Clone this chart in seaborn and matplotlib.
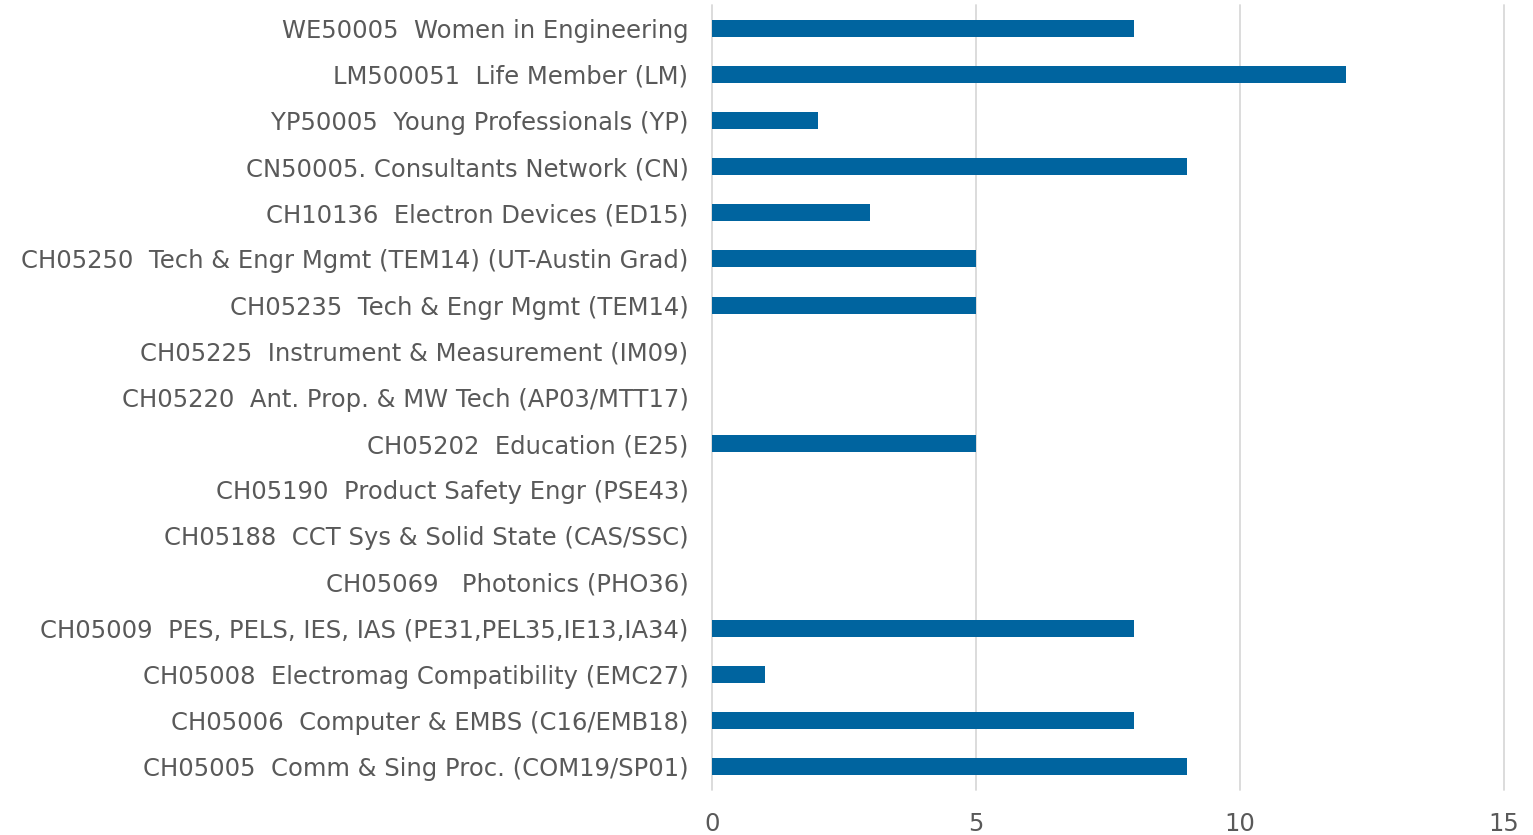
import matplotlib
matplotlib.use("Agg")
import matplotlib.pyplot as plt
import seaborn as sns
import pandas as pd

# Categorias (de cima para baixo) e contagens
categorias = [
    "WE50005  Women in Engineering",
    "LM500051  Life Member (LM)",
    "YP50005  Young Professionals (YP)",
    "CN50005. Consultants Network (CN)",
    "CH10136  Electron Devices (ED15)",
    "CH05250  Tech & Engr Mgmt (TEM14) (UT-Austin Grad)",
    "CH05235  Tech & Engr Mgmt (TEM14)",
    "CH05225  Instrument & Measurement (IM09)",
    "CH05220  Ant. Prop. & MW Tech (AP03/MTT17)",
    "CH05202  Education (E25)",
    "CH05190  Product Safety Engr (PSE43)",
    "CH05188  CCT Sys & Solid State (CAS/SSC)",
    "CH05069   Photonics (PHO36)",
    "CH05009  PES, PELS, IES, IAS (PE31,PEL35,IE13,IA34)",
    "CH05008  Electromag Compatibility (EMC27)",
    "CH05006  Computer & EMBS (C16/EMB18)",
    "CH05005  Comm & Sing Proc. (COM19/SP01)",
]
valores = [8, 12, 2, 9, 3, 5, 5, 0, 0, 5, 0, 0, 0, 8, 1, 8, 9]
xticks = [0, 5, 10, 15]

df = pd.DataFrame({"categoria": categorias, "valor": valores})

sns.set_style("white")
plt.rcParams["font.family"] = ["DejaVu Sans"]

fig = plt.figure(figsize=(15.33, 8.35), dpi=100)
ax = fig.add_axes([0.4645, 0.054, 0.5165, 0.94])

sns.barplot(data=df, x="valor", y="categoria", orient="h", color="#00649F",
            saturation=1, width=0.37, linewidth=0, ax=ax, zorder=3)

ax.set_xlim(0, 15)
ax.set_xticks(xticks)
ax.xaxis.grid(True, color="#D9D9D9", linewidth=1.3, zorder=0)
ax.set_axisbelow(True)
for gl in ax.get_xgridlines():
    gl.set_clip_on(False)
for s in ax.spines.values():
    s.set_visible(False)
ax.set_xlabel("")
ax.set_ylabel("")
ax.tick_params(axis="both", length=0, labelsize=17.5, labelcolor="#595959")
ax.tick_params(axis="y", pad=17)
ax.tick_params(axis="x", pad=16)

fig.savefig("out.png", dpi=100)
